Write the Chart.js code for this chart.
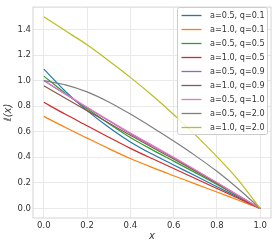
<!DOCTYPE html>
<html>
<head>
<meta charset="utf-8">
<script src="https://cdn.jsdelivr.net/npm/chart.js@4"></script>
<style>
  html, body { margin: 0; padding: 0; background: #fff; }
  #wrap { width: 277px; height: 242px; }
</style>
</head>
<body>
<div id="wrap"><canvas id="lossChart"></canvas></div>
<script>
// x positions the curves were read at
var xValues = [0, 0.1, 0.2, 0.3, 0.4, 0.5, 0.6, 0.7, 0.8, 0.9, 1.0];

// series labels and colours (matplotlib tab10)
var seriesLabels = ['a=0.5, q=0.1', 'a=1.0, q=0.1', 'a=0.5, q=0.5', 'a=1.0, q=0.5', 'a=0.5, q=0.9',
                    'a=1.0, q=0.9', 'a=0.5, q=1.0', 'a=0.5, q=2.0', 'a=1.0, q=2.0'];
var seriesColors = ['#1f77b4', '#ff7f0e', '#2ca02c', '#d62728', '#9467bd',
                    '#8c564b', '#e377c2', '#7f7f7f', '#bcbd22'];

// values
var a05q01 = [1.09, 0.915, 0.765, 0.635, 0.52, 0.425, 0.34, 0.255, 0.17, 0.085, 0];
var a10q01 = [0.72, 0.633, 0.55, 0.468, 0.39, 0.321, 0.256, 0.192, 0.128, 0.064, 0];
var a05q05 = [1.035, 0.9, 0.78, 0.665, 0.555, 0.46, 0.37, 0.28, 0.187, 0.094, 0];
var a10q05 = [0.83, 0.736, 0.647, 0.557, 0.47, 0.39, 0.312, 0.234, 0.156, 0.078, 0];
var a05q09 = [1.0, 0.893, 0.789, 0.686, 0.585, 0.49, 0.396, 0.299, 0.2, 0.099, 0];
var a10q09 = [0.96, 0.862, 0.765, 0.668, 0.572, 0.478, 0.386, 0.292, 0.196, 0.098, 0];
var a05q10 = [1.0, 0.895, 0.792, 0.69, 0.59, 0.495, 0.4, 0.302, 0.202, 0.1, 0];
var a05q20 = [1.0, 0.967, 0.912, 0.833, 0.738, 0.635, 0.527, 0.413, 0.29, 0.152, 0];
var a10q20 = [1.5, 1.39, 1.28, 1.155, 1.025, 0.885, 0.735, 0.575, 0.405, 0.22, 0];
var seriesValues = [a05q01, a10q01, a05q05, a10q05, a05q09, a10q09, a05q10, a05q20, a10q20];

// tick labels
var xTicks = [0, 0.2, 0.4, 0.6, 0.8, 1.0];
var yTicks = [0, 0.2, 0.4, 0.6, 0.8, 1.0, 1.2, 1.4];

var textColor = '#333333';
var fontFamily = '"DejaVu Sans", sans-serif';

// Build the datasets from the arrays above
var datasets = [];
seriesValues.forEach(function (values, i) {
    datasets.push({
        label: seriesLabels[i],
        data: values.map(function (v, j) { return { x: xValues[j], y: v }; }),
        borderColor: seriesColors[i],
        backgroundColor: seriesColors[i],
        borderWidth: 1.2,
        pointRadius: 0,
        fill: false,
        tension: 0.3,
        // matplotlib draws the last series on top
        order: seriesValues.length - i
    });
});

// Frame around the plot area and the legend box in the upper right
var framePlugin = {
    id: 'frameAndLegend',
    afterDatasetsDraw: function (chart) {
        var ctx = chart.ctx;
        var area = chart.chartArea;
        ctx.save();
        ctx.strokeStyle = '#d4d4d4';
        ctx.lineWidth = 1;
        ctx.strokeRect(area.left, area.top, area.right - area.left, area.bottom - area.top);

        // legend
        var boxLeft = 177.5, boxTop = 7.5, boxW = 90, rowH = 14;
        var boxH = rowH * seriesLabels.length + 1;
        ctx.fillStyle = 'rgba(255,255,255,0.85)';
        ctx.strokeStyle = '#cccccc';
        ctx.beginPath();
        ctx.roundRect(boxLeft, boxTop, boxW, boxH, 2);
        ctx.fill();
        ctx.stroke();

        ctx.font = '8.1px ' + fontFamily;
        ctx.textBaseline = 'middle';
        seriesLabels.forEach(function (label, i) {
            var y = boxTop + 8 + i * rowH;
            ctx.strokeStyle = seriesColors[i];
            ctx.lineWidth = 1.3;
            ctx.beginPath();
            ctx.moveTo(181.5, y);
            ctx.lineTo(201.5, y);
            ctx.stroke();
            ctx.fillStyle = textColor;
            ctx.fillText(label, 210, y);
        });
        ctx.restore();
    }
};

var ctx = document.getElementById('lossChart');
var lossChart = new Chart(ctx, {
    type: 'line',
    data: { datasets: datasets },
    options: {
        responsive: true,
        maintainAspectRatio: false,
        animation: false,
        devicePixelRatio: 1,
        layout: { padding: { top: 3, right: 6, left: 0, bottom: 0 } },
        plugins: {
            legend: { display: false },
            tooltip: { enabled: false }
        },
        scales: {
            x: {
                type: 'linear',
                min: -0.05,
                max: 1.05,
                afterBuildTicks: function (scale) {
                    scale.ticks = xTicks.map(function (v) { return { value: v }; });
                },
                afterFit: function (scale) { scale.height = 24; },
                grid: { color: '#e9e9e9', lineWidth: 1, drawTicks: false },
                border: { display: false },
                ticks: {
                    color: textColor,
                    padding: 3,
                    font: { family: fontFamily, size: 8.5 },
                    maxRotation: 0,
                    callback: function (v) { return v.toFixed(1); }
                },
                title: {
                    display: true,
                    text: 'x',
                    color: textColor,
                    padding: { top: 0, bottom: 0 },
                    font: { family: fontFamily, size: 10, style: 'italic' }
                }
            },
            y: {
                type: 'linear',
                min: -0.075,
                max: 1.575,
                afterBuildTicks: function (scale) {
                    scale.ticks = yTicks.map(function (v) { return { value: v }; });
                },
                afterFit: function (scale) { scale.width = 33; },
                grid: { color: '#e9e9e9', lineWidth: 1, drawTicks: false },
                border: { display: false },
                ticks: {
                    color: textColor,
                    padding: 2,
                    font: { family: fontFamily, size: 8.5 },
                    callback: function (v) { return v.toFixed(1); }
                },
                title: {
                    display: true,
                    text: 'ℓ(x)',
                    color: textColor,
                    padding: { top: 2, bottom: 0 },
                    font: { family: fontFamily, size: 10, style: 'italic' }
                }
            }
        }
    },
    plugins: [framePlugin]
});
</script>
</body>
</html>
